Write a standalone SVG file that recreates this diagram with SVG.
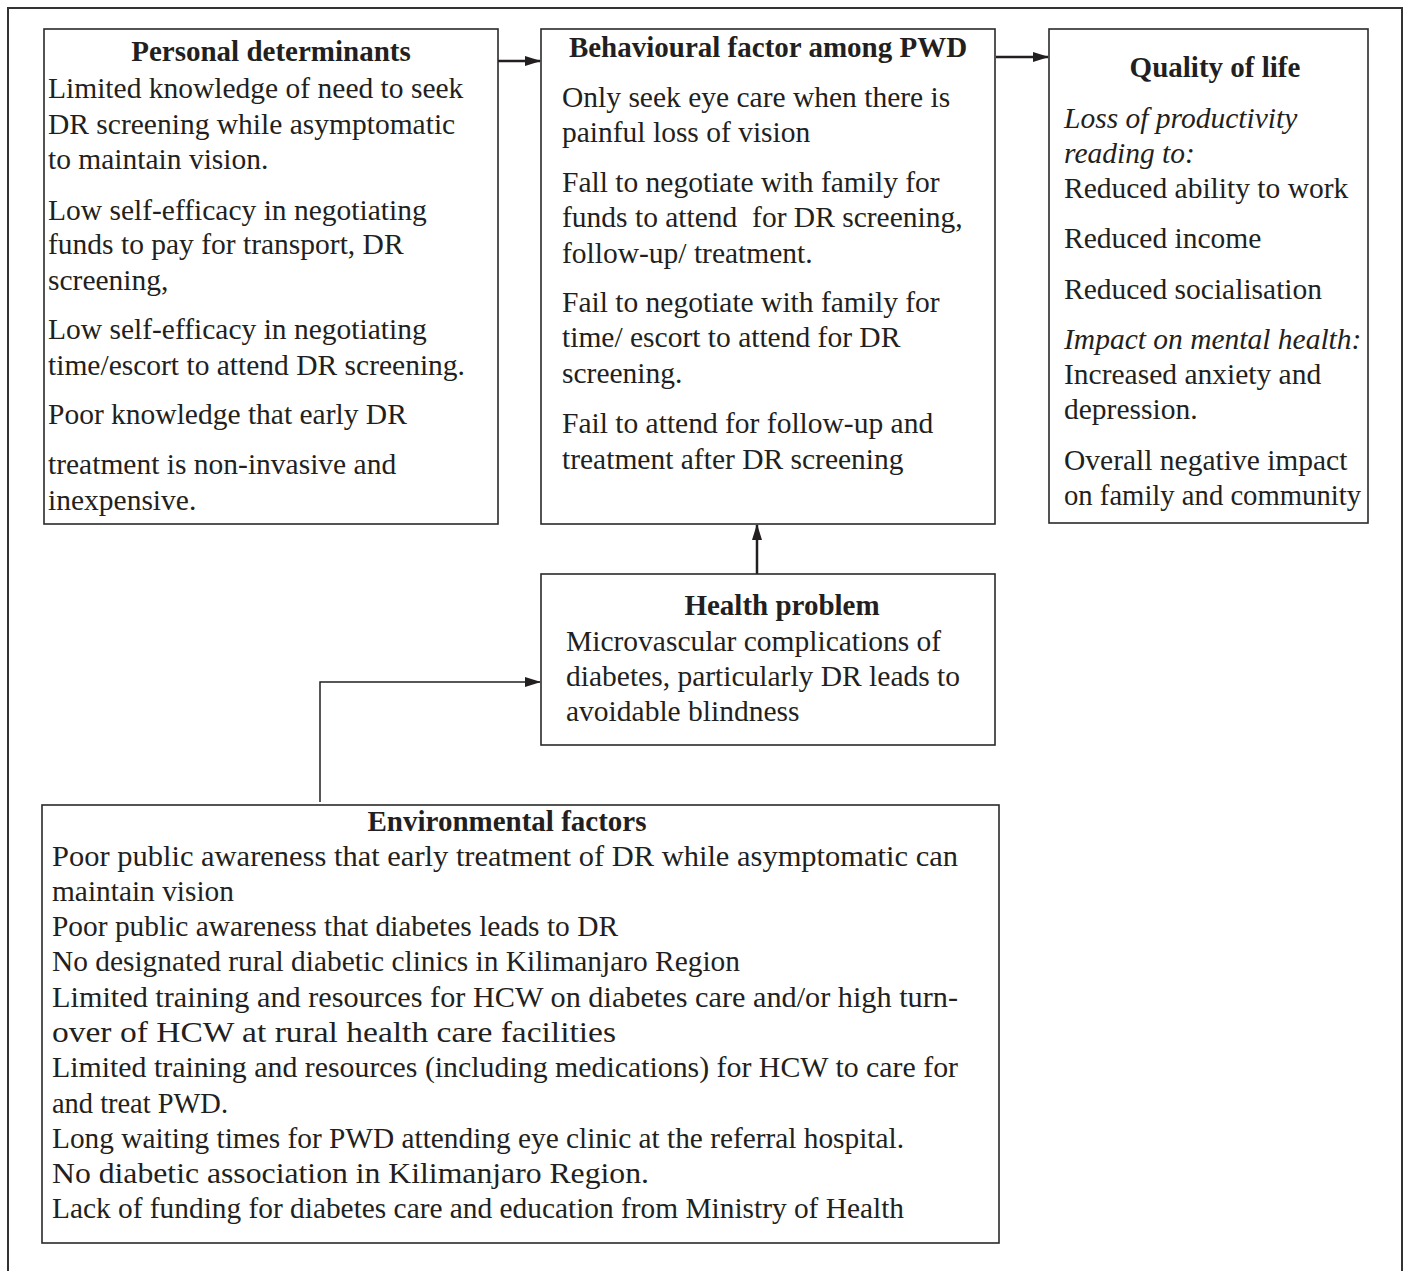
<svg xmlns="http://www.w3.org/2000/svg" width="1408" height="1271" viewBox="0 0 1408 1271">
<defs>
<style>
.box{fill:#fff;stroke:#2a2a2a;stroke-width:1.6}
text{font-family:"Liberation Serif","Times New Roman",serif;font-size:29.5px;fill:#231f20}
.t{font-weight:bold;text-anchor:middle;font-size:29px}
.i{font-style:italic}
.c{fill:none;stroke:#231f20}
</style>
<marker id="ah" markerWidth="16" markerHeight="12" refX="15" refY="6" orient="auto" markerUnits="userSpaceOnUse">
<path d="M0,1 L16,6 L0,11 Z" fill="#231f20"/>
</marker>
</defs>
<rect width="1408" height="1271" fill="#fff"/>
<path d="M8,1275 L8,8 L1402,8 L1402,1275" fill="none" stroke="#333" stroke-width="2"/>
<g id="connectors">
<line class="c" x1="498" y1="61" x2="540" y2="61" stroke-width="2.5" marker-end="url(#ah)"/>
<line class="c" x1="996" y1="57" x2="1048" y2="57" stroke-width="2.5" marker-end="url(#ah)"/>
<line class="c" x1="757" y1="574" x2="757" y2="525" stroke-width="2.5" marker-end="url(#ah)"/>
<polyline class="c" points="320,802 320,682 540,682" stroke-width="1.5" marker-end="url(#ah)"/>
</g>
<g id="personal">
<rect class="box" x="44" y="29" width="454" height="495"/>
<text class="t" x="271" y="61">Personal determinants</text>
<text x="48" y="98">Limited knowledge of need to seek</text>
<text x="48" y="134">DR screening while asymptomatic</text>
<text x="48" y="169">to maintain vision.</text>
<text x="48" y="220">Low self-efficacy in negotiating</text>
<text x="48" y="254">funds to pay for transport, DR</text>
<text x="48" y="290">screening,</text>
<text x="48" y="339">Low self-efficacy in negotiating</text>
<text x="48" y="375">time/escort to attend DR screening.</text>
<text x="48" y="424">Poor knowledge that early DR</text>
<text x="48" y="474">treatment is non-invasive and</text>
<text x="48" y="510">inexpensive.</text>
</g>
<g id="behavioural">
<rect class="box" x="541" y="29" width="454" height="495"/>
<text class="t" x="768" y="57">Behavioural factor among PWD</text>
<text x="562" y="107">Only seek eye care when there is</text>
<text x="562" y="142">painful loss of vision</text>
<text x="562" y="192">Fall to negotiate with family for</text>
<text x="562" y="227" xml:space="preserve">funds to attend  for DR screening,</text>
<text x="562" y="263">follow-up/ treatment.</text>
<text x="562" y="312">Fail to negotiate with family for</text>
<text x="562" y="347">time/ escort to attend for DR</text>
<text x="562" y="383">screening.</text>
<text x="562" y="433">Fail to attend for follow-up and</text>
<text x="562" y="469">treatment after DR screening</text>
</g>
<g id="quality">
<rect class="box" x="1049" y="29" width="319" height="494"/>
<text class="t" x="1215" y="77">Quality of life</text>
<text class="i" x="1064" y="128">Loss of productivity</text>
<text class="i" x="1064" y="163">reading to:</text>
<text x="1064" y="198">Reduced ability to work</text>
<text x="1064" y="248">Reduced income</text>
<text x="1064" y="299">Reduced socialisation</text>
<text class="i" x="1064" y="349">Impact on mental health:</text>
<text x="1064" y="384">Increased anxiety and</text>
<text x="1064" y="419">depression.</text>
<text x="1064" y="470">Overall negative impact</text>
<text x="1064" y="505" textLength="297" lengthAdjust="spacingAndGlyphs">on family and community</text>
</g>
<g id="health">
<rect class="box" x="541" y="574" width="454" height="171"/>
<text class="t" x="782" y="615">Health problem</text>
<text x="566" y="651">Microvascular complications of</text>
<text x="566" y="686">diabetes, particularly DR leads to</text>
<text x="566" y="721">avoidable blindness</text>
</g>
<g id="environmental">
<rect class="box" x="42" y="805" width="957" height="438"/>
<text class="t" x="507" y="831">Environmental factors</text>
<text x="52" y="866" textLength="906" lengthAdjust="spacingAndGlyphs">Poor public awareness that early treatment of DR while asymptomatic can</text>
<text x="52" y="901" textLength="182" lengthAdjust="spacingAndGlyphs">maintain vision</text>
<text x="52" y="936" textLength="566" lengthAdjust="spacingAndGlyphs">Poor public awareness that diabetes leads to DR</text>
<text x="52" y="971" textLength="688" lengthAdjust="spacingAndGlyphs">No designated rural diabetic clinics in Kilimanjaro Region</text>
<text x="52" y="1007" textLength="906" lengthAdjust="spacingAndGlyphs">Limited training and resources for HCW on diabetes care and/or high turn-</text>
<text x="52" y="1042" textLength="564" lengthAdjust="spacingAndGlyphs">over of HCW at rural health care facilities</text>
<text x="52" y="1077" textLength="906" lengthAdjust="spacingAndGlyphs">Limited training and resources (including medications) for HCW to care for</text>
<text x="52" y="1113" textLength="176" lengthAdjust="spacingAndGlyphs">and treat PWD.</text>
<text x="52" y="1148" textLength="852" lengthAdjust="spacingAndGlyphs">Long waiting times for PWD attending eye clinic at the referral hospital.</text>
<text x="52" y="1183" textLength="597" lengthAdjust="spacingAndGlyphs">No diabetic association in Kilimanjaro Region.</text>
<text x="52" y="1218" textLength="852" lengthAdjust="spacingAndGlyphs">Lack of funding for diabetes care and education from Ministry of Health</text>
</g>
</svg>
